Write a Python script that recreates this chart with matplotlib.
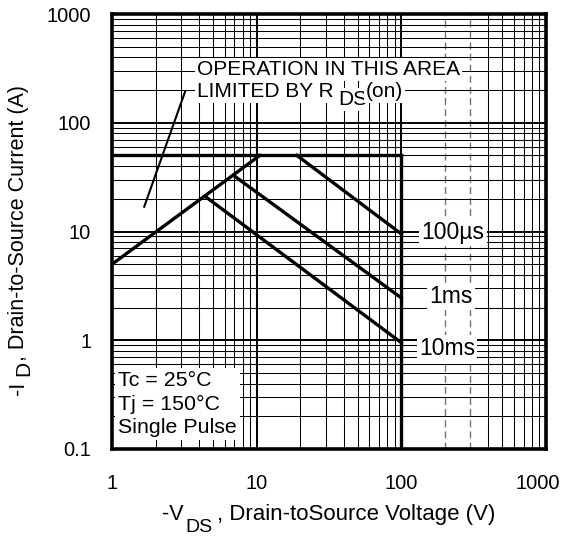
import numpy as np
import matplotlib.pyplot as plt
from matplotlib.ticker import FixedLocator, NullLocator
from matplotlib.transforms import ScaledTranslation

plt.rcParams['font.family'] = ['Liberation Sans', 'DejaVu Sans']

# SOA boundary lines
rds_v = [1.0, 10.5]
rds_i = [5.0, 50.0]
limit_v = [1.0, 100.0]
limit_i = [50.0, 50.0]
vmax_v = [100.0, 100.0]
vmax_i = [0.1, 50.0]
pulse_names = ["100\u00b5s", "1ms", "10ms"]
pulse_v = [[19.0, 100.0], [7.1, 100.0], [4.45, 100.0]]
pulse_i = [[50.0, 9.5], [32.0, 2.45], [20.8, 0.95]]

x_ticks = [1, 10, 100, 1000]
y_ticks = [0.1, 1, 10, 100, 1000]
x_tick_labels = ["1", "10", "100", "1000"]
y_tick_labels = ["0.1", "1", "10", "100", "1000"]

W, H = 576, 536
fig = plt.figure(figsize=(W / 100, H / 100), dpi=100)
ax = fig.add_axes([112 / W, 1 - 449 / H, 434 / W, 435 / H])
ax.set_xscale("log")
ax.set_yscale("log")
ax.set_xlim(1, 1000)
ax.set_ylim(0.1, 1000)


def px(x, y):
    # pixel position (from top left) -> figure fraction
    return x / W, 1 - y / H


ax.xaxis.set_major_locator(FixedLocator(x_ticks))
ax.yaxis.set_major_locator(FixedLocator(y_ticks))
ax.xaxis.set_minor_locator(NullLocator())
ax.yaxis.set_minor_locator(NullLocator())
ax.set_xticklabels(x_tick_labels)
ax.set_yticklabels(y_tick_labels)
ax.tick_params(which="major", direction="in", length=6, width=1.2, labelsize=14.5, colors="black")
ax.tick_params(axis="x", pad=18)
ax.tick_params(axis="y", pad=15)
# the last x label sits a little left of its tick in the original
last = ax.xaxis.get_major_ticks()[-1].label1
last.set_transform(last.get_transform() + ScaledTranslation(-0.08, 0, fig.dpi_scale_trans))

# log grid, drawn line by line (200 and 300 V are grey dashed in the original)
ax.grid(which="major", color="black", linewidth=1.4, zorder=1)
for dec in [1, 10, 100]:
    for k in range(2, 10):
        v = dec * k
        if v in (200, 300):
            ax.axvline(v, color="0.45", lw=1.0, ls=(0, (5, 3)), zorder=1)
        else:
            ax.axvline(v, color="black", lw=0.75, zorder=1)
for dec in [0.1, 1, 10, 100]:
    for k in range(2, 10):
        ax.axhline(dec * k, color="black", lw=0.75, zorder=1)

for s in ax.spines.values():
    s.set_linewidth(2.6)
    s.set_zorder(6)

lw = 2.4
ax.plot(rds_v, rds_i, color="black", lw=lw, zorder=3)
ax.plot(limit_v, limit_i, color="black", lw=lw, zorder=3)
ax.plot(vmax_v, vmax_i, color="black", lw=lw, zorder=3)
for v, i in zip(pulse_v, pulse_i):
    ax.plot(v, i, color="black", lw=lw, zorder=3)

box = dict(facecolor="white", edgecolor="none", pad=1.5)

# curve labels (baseline positions in pixels)
label_xy = [(453, 239), (451, 303), (447, 355)]
for name, (x, y) in zip(pulse_names, label_xy):
    fig.text(*px(x, y), name, fontsize=16.5, ha="center", va="baseline", bbox=box, zorder=5)

# R_DS(on) note
fig.text(*px(197, 75), "OPERATION IN THIS AREA", fontsize=15, ha="left", va="baseline",
         bbox=box, zorder=5)
fig.text(*px(197, 97), "LIMITED BY R", fontsize=15, ha="left", va="baseline",
         bbox=box, zorder=5)
fig.text(*px(338, 105), "DS", fontsize=15, ha="left", va="baseline", bbox=box, zorder=5)
fig.text(*px(366, 97), "(on)", fontsize=15, ha="left", va="baseline", bbox=box, zorder=5)
ax.plot([1.67, 3.2], [16.9, 193], color="black", lw=1.5, zorder=3)

fig.text(*px(118, 371), "Tc = 25\u00b0C\nTj = 150\u00b0C\nSingle Pulse", fontsize=15.4,
         ha="left", va="top", linespacing=1.31,
         bbox=dict(facecolor="white", edgecolor="none", pad=2), zorder=5)

# axis titles with large, lowered subscripts like the datasheet
fig.text(*px(162, 520), "-V", fontsize=15.5, ha="left", va="baseline")
fig.text(*px(185, 532), "DS", fontsize=14, ha="left", va="baseline")
fig.text(*px(217, 520), ", Drain-toSource Voltage (V)", fontsize=16, ha="left", va="baseline")

fig.text(*px(24, 395), "-I", fontsize=15.5, rotation=90, rotation_mode="anchor",
         ha="left", va="baseline")
fig.text(*px(29, 376), "D", fontsize=15, rotation=90, rotation_mode="anchor",
         ha="left", va="baseline")
fig.text(*px(24, 361), ", Drain-to-Source Current (A)", fontsize=15.5, rotation=90,
         rotation_mode="anchor", ha="left", va="baseline")

fig.savefig("out.png", dpi=100)
